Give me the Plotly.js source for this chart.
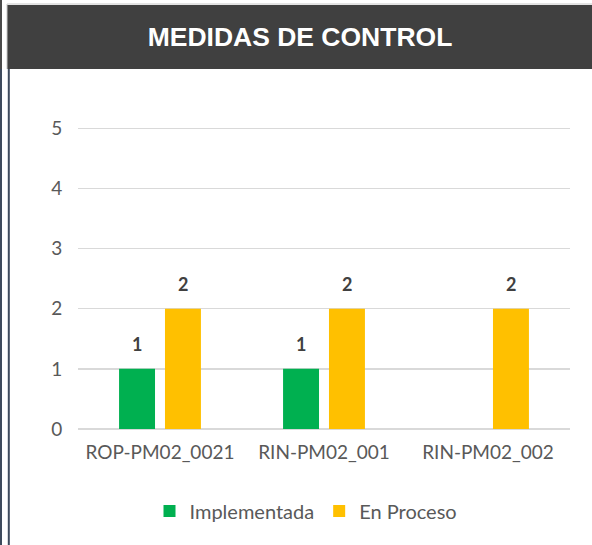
<!DOCTYPE html>
<html>
<head>
<meta charset="utf-8">
<script src="https://cdn.plot.ly/plotly-3.0.1.min.js"></script>
<style>
html,body{margin:0;padding:0;background:#fff;}
#chart{width:592px;height:545px;}
</style>
</head>
<body>
<div id="chart"></div>
<script>
const categories = ["ROP-PM02_0021", "RIN-PM02_001", "RIN-PM02_002"];
const implementada = [1, 1, 0];
const enProceso = [2, 2, 2];
const seriesNames = ["Implementada", "En Proceso"];
const yTicks = [0, 1, 2, 3, 4, 5];
const chartTitle = "MEDIDAS DE CONTROL";

const W = 592, H = 545;
const L = 78, R = 22, T = 128, B = 116;
const pw = W - L - R, ph = H - T - B;
const px = x => (x - L) / pw;
const py = y => (H - B - y) / ph;

const labelFont = {family: "Lato, Carlito, sans-serif", size: 18, color: "#404040", weight: "bold"};
const tickFont = {family: "Lato, Carlito, sans-serif", size: 19, color: "#595959"};

const traces = [
  {type: "bar", name: seriesNames[0], x: categories, y: implementada,
   marker: {color: "#00b050"}, hoverinfo: "skip"},
  {type: "bar", name: seriesNames[1], x: categories, y: enProceso,
   marker: {color: "#ffc000"}, hoverinfo: "skip"}
];

const annotations = [];
[implementada, enProceso].forEach((vals, si) => {
  vals.forEach((v, i) => {
    if (v > 0) {
      annotations.push({
        x: i, y: v, xref: "x", yref: "y", text: "<b>" + v + "</b>",
        showarrow: false, xshift: si === 0 ? -23 : 23, yshift: 25,
        font: labelFont
      });
    }
  });
});

const shapes = [
  {type: "rect", xref: "paper", yref: "paper", x0: px(7), x1: px(593), y0: py(69), y1: py(5),
   fillcolor: "#404040", line: {width: 0}, layer: "below"},
  {type: "line", xref: "paper", yref: "paper", x0: px(7), x1: px(593), y0: py(4), y1: py(4),
   line: {color: "#c8c8c8", width: 1}},
  {type: "line", xref: "paper", yref: "paper", x0: px(7), x1: px(7), y0: py(69), y1: py(4),
   line: {color: "#c8c8c8", width: 1}},
  {type: "line", xref: "paper", yref: "paper", x0: px(1), x1: px(1), y0: py(69), y1: py(0),
   line: {color: "#4a4a4a", width: 2}},
  {type: "line", xref: "paper", yref: "paper", x0: px(1), x1: px(1), y0: py(545), y1: py(69),
   line: {color: "#3e4a5c", width: 2}},
  {type: "line", xref: "paper", yref: "paper", x0: px(8.8), x1: px(8.8), y0: py(545), y1: py(69),
   line: {color: "#3e4a5c", width: 2}},
  // top gridline at max tick
  {type: "line", xref: "paper", yref: "y", x0: 0, x1: 1,
   y0: yTicks[yTicks.length - 1], y1: yTicks[yTicks.length - 1],
   line: {color: "#d9d9d9", width: 1.5}, layer: "below"}
];

const layout = {
  width: W, height: H,
  margin: {l: L, r: R, t: T, b: B, pad: 0},
  paper_bgcolor: "#ffffff", plot_bgcolor: "#ffffff",
  showlegend: true,
  title: {text: chartTitle, x: px(300), xref: "paper", xanchor: "center",
          y: 1 - 37 / H, yanchor: "middle",
          font: {family: "Liberation Sans, Arial, sans-serif", size: 26.5, color: "#ffffff", weight: "bold"}},
  barmode: "group", bargap: 0.44, bargroupgap: 0.217,
  xaxis: {type: "category", tickfont: tickFont,
          showgrid: false, zeroline: false, showline: false, ticks: "outside", ticklen: 6,
          tickcolor: "rgba(0,0,0,0)", fixedrange: true, automargin: false},
  yaxis: {range: [0, 5.004], tickvals: yTicks, ticktext: yTicks.map(String),
          tickfont: tickFont,
          gridcolor: "#d9d9d9", gridwidth: 1.5, zeroline: true, zerolinecolor: "#d9d9d9", zerolinewidth: 2,
          showline: false, ticks: "outside", ticklen: 11, tickcolor: "rgba(0,0,0,0)", fixedrange: true,
          automargin: false},
  legend: {orientation: "h", x: px(306), xanchor: "center", y: py(511), yanchor: "middle",
           font: {family: "Lato, Carlito, sans-serif", size: 20, color: "#595959"},
           itemwidth: 30, traceorder: "normal", bgcolor: "rgba(0,0,0,0)"},
  annotations: annotations,
  shapes: shapes
};

Plotly.newPlot("chart", traces, layout, {displayModeBar: false, staticPlot: true});
</script>
</body>
</html>
